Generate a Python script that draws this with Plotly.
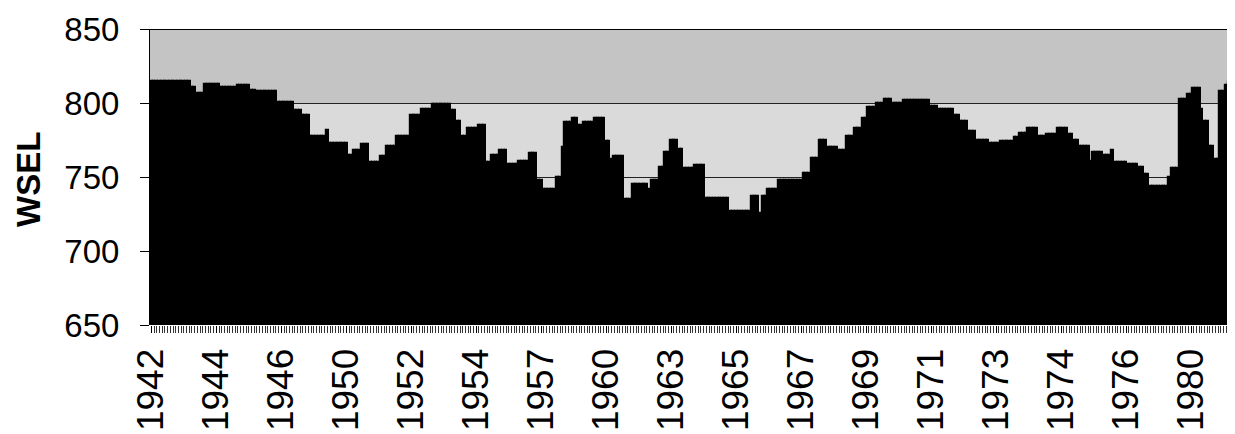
import plotly.graph_objects as go

# Monthly water surface elevation (WSEL), 400 months
wsel = [
    815,815,815,815,815,815,815,815,815,815,815,815,815,815,815,811,811,807,807,807,
    813,813,813,813,813,813,811,811,811,811,811,811,812,812,812,812,812,809,809,808,
    808,808,808,808,808,808,808,801,801,801,801,801,801,795,795,795,792,792,792,778,
    778,778,778,778,778,782,773,773,773,773,773,773,773,765,765,768,768,768,772,772,
    772,760,760,760,760,764,764,771,771,771,771,778,778,778,778,778,792,792,792,792,
    796,796,796,796,799,799,799,799,799,799,799,795,795,788,788,778,778,783,783,783,
    783,785,785,785,760,760,765,765,765,768,768,768,759,759,759,759,761,761,761,761,
    766,766,766,748,748,742,742,742,742,742,750,750,770,787,787,787,790,790,785,785,
    787,787,787,787,790,790,790,790,774,774,762,764,764,764,764,735,735,735,745,745,
    745,745,745,745,742,748,748,748,757,757,767,767,775,775,775,769,769,756,756,756,
    756,758,758,758,758,736,736,736,736,736,736,736,736,736,727,727,727,727,727,727,
    727,727,737,737,737,726,737,737,742,742,742,742,748,748,748,748,748,748,748,748,
    748,753,753,753,763,763,763,775,775,775,770,770,770,770,768,768,768,778,778,778,
    783,783,783,790,790,797,797,797,800,800,800,803,803,803,800,800,800,800,802,802,
    802,802,802,802,802,802,802,802,798,798,798,796,796,796,796,796,796,792,792,788,
    788,788,781,781,781,775,775,775,775,775,773,773,773,773,774,774,774,774,774,777,
    777,780,780,780,783,783,783,783,778,778,778,779,779,779,779,783,783,783,783,779,
    779,775,775,771,771,771,771,761,767,767,767,767,765,765,765,768,760,760,760,760,
    760,759,759,759,759,757,757,752,752,744,744,744,744,744,744,744,750,756,756,756,
    803,803,803,806,806,810,810,810,796,788,788,771,771,762,762,808,808,812,814,816,
]

tick_years = ["1942", "1944", "1946", "1950", "1952", "1954", "1957", "1960", "1963",
              "1965", "1967", "1969", "1971", "1973", "1974", "1976", "1980"]
months_per_label = 24

y_ticks = [650, 700, 750, 800, 850]

x_idx = list(range(len(wsel)))
tick_pos = [i * months_per_label for i in range(len(tick_years))]

FONT = "Arial, Liberation Sans, Helvetica, sans-serif"

fig = go.Figure()
fig.add_trace(go.Bar(
    x=x_idx, y=wsel,
    marker=dict(color="black", line=dict(width=1.2, color="black")),
    hoverinfo="x+y",
))

fig.update_layout(
    width=1227, height=426,
    margin=dict(l=142, r=2, t=21, b=109),
    paper_bgcolor="white",
    plot_bgcolor="#dadada",
    bargap=0,
    showlegend=False,
    font=dict(family=FONT, color="black"),
    shapes=[
        dict(type="rect", xref="paper", yref="y", x0=0, x1=1, y0=800, y1=850,
             fillcolor="#c4c4c4", line=dict(width=0), layer="below"),
        dict(type="line", xref="paper", yref="y", x0=0, x1=1, y0=850, y1=850,
             line=dict(color="black", width=2)),
    ],
    annotations=[
        dict(text="<b>WSEL</b>", xref="paper", yref="paper", x=-0.1117, y=0.49,
             xanchor="center", yanchor="middle", textangle=-90, showarrow=False,
             font=dict(size=33, family=FONT, color="black")),
    ],
)

fig.update_xaxes(
    range=[-0.5, len(wsel) - 0.5],
    automargin=False,
    tickmode="array", tickvals=tick_pos, ticktext=tick_years,
    tickangle=-90,
    ticks="outside", ticklen=7, tickwidth=1, tickcolor="black",
    minor=dict(tickmode="array", tickvals=x_idx, ticks="outside", ticklen=7,
               tickwidth=1, tickcolor="#333333", showgrid=False),
    tickfont=dict(size=37, family=FONT, color="black"),
    ticklabelstandoff=1,
    showgrid=False, showline=False, zeroline=False,
)

fig.update_yaxes(
    range=[650, 850],
    automargin=False,
    tickvals=y_ticks,
    ticks="outside", ticklen=9, tickwidth=1, tickcolor="black",
    tickfont=dict(size=33, family=FONT, color="black"),
    ticklabelstandoff=14,
    showgrid=True, gridcolor="#222222", gridwidth=1,
    showline=True, linecolor="black", linewidth=1,
    zeroline=False,
)

fig.write_html("out.html")
